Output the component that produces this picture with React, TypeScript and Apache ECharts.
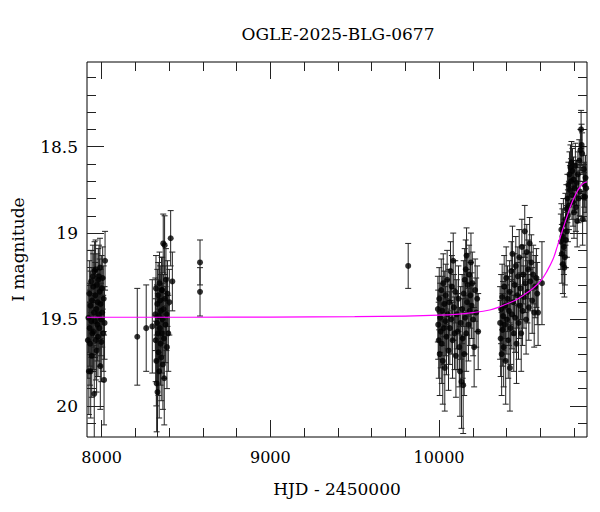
import React, { useEffect, useRef } from "react";
import * as echarts from "echarts";

const titleText = "OGLE-2025-BLG-0677";
const xName = "HJD - 2450000";
const yName = "I magnitude";

const X_MIN = 7913;
const X_MAX = 10877;
const Y_MIN = 18.01;
const Y_MAX = 20.18;

const xMajorTicks = [8000, 9000, 10000];
const xMinorTicks = [8000, 8200, 8400, 8600, 8800, 9000, 9200, 9400, 9600, 9800, 10000, 10200, 10400, 10600, 10800];
const yMajorTicks = [18.5, 19, 19.5, 20];
const yMinorTicks = [18.1, 18.2, 18.3, 18.4, 18.5, 18.6, 18.7, 18.8, 18.9, 19.0, 19.1, 19.2, 19.3, 19.4, 19.5, 19.6, 19.7, 19.8, 19.9, 20.0, 20.1];

// [HJD-2450000, I mag, error]
const season2018 = [
  [7918, 19.62, 0.22], [7921, 19.49, 0.20], [7924, 19.80, 0.25], [7927, 19.35, 0.19],
  [7929, 19.55, 0.22], [7931, 19.64, 0.24], [7933, 19.42, 0.20], [7935, 19.80, 0.27],
  [7937, 19.28, 0.18], [7939, 19.51, 0.21], [7941, 19.71, 0.24], [7943, 19.39, 0.19],
  [7945, 19.58, 0.22], [7948, 19.25, 0.18], [7950, 19.31, 0.19], [7952, 19.57, 0.22],
  [7954, 19.46, 0.20], [7956, 19.93, 0.28], [7958, 19.22, 0.17], [7960, 19.51, 0.21],
  [7962, 19.36, 0.19], [7964, 19.21, 0.17], [7966, 19.62, 0.23], [7968, 19.44, 0.20],
  [7970, 19.68, 0.24], [7972, 19.30, 0.18], [7974, 19.53, 0.21], [7976, 19.40, 0.19],
  [7978, 19.60, 0.23], [7980, 19.27, 0.18], [7982, 19.47, 0.20], [7984, 19.25, 0.18],
  [7986, 19.55, 0.22], [7988, 19.34, 0.19], [7990, 19.20, 0.17], [7992, 19.77, 0.25],
  [7994, 19.41, 0.20], [7996, 19.50, 0.21], [7998, 19.63, 0.23], [8000, 19.32, 0.19],
  [8003, 19.46, 0.20], [8006, 19.26, 0.18], [8009, 19.58, 0.22], [8012, 19.38, 0.19],
  [8014, 19.85, 0.26], [8017, 19.52, 0.21], [8020, 19.16, 0.17],
];

const season2019 = [
  [8211, 19.60, 0.28], [8264, 19.55, 0.25], [8300, 19.54, 0.27],
  [8318, 19.47, 0.21], [8320, 19.62, 0.24], [8322, 19.32, 0.19], [8324, 19.74, 0.26],
  [8326, 19.87, 0.28], [8328, 19.52, 0.22], [8330, 19.41, 0.20], [8331, 19.92, 0.29],
  [8333, 19.58, 0.23], [8335, 19.36, 0.19], [8337, 19.69, 0.25], [8339, 19.48, 0.21],
  [8341, 19.80, 0.27], [8343, 19.29, 0.18], [8345, 19.55, 0.22], [8347, 19.39, 0.20],
  [8349, 19.64, 0.24], [8351, 19.45, 0.21], [8353, 19.72, 0.25], [8355, 19.33, 0.19],
  [8357, 19.58, 0.23], [8359, 19.33, 0.19], [8361, 19.50, 0.21], [8363, 19.76, 0.26],
  [8365, 19.06, 0.17], [8367, 19.44, 0.20], [8369, 19.61, 0.23], [8371, 19.84, 0.27],
  [8373, 19.07, 0.17], [8375, 19.38, 0.19], [8378, 19.53, 0.22], [8381, 19.27, 0.18],
  [8384, 19.47, 0.21], [8387, 19.66, 0.24], [8390, 19.35, 0.19], [8395, 19.58, 0.22],
  [8401, 19.40, 0.19], [8409, 19.03, 0.16], [8419, 19.28, 0.17],
];

const season2019b = [
  [8583, 19.17, 0.13], [8583, 19.34, 0.14],
];

const season2022 = [
  [9817, 19.19, 0.13],
];

const season2023 = [
  [9993, 19.44, 0.19], [9995, 19.53, 0.20], [9998, 19.62, 0.22], [10001, 19.38, 0.18],
  [10004, 19.70, 0.24], [10007, 19.49, 0.20], [10010, 19.57, 0.21], [10013, 19.33, 0.18],
  [10016, 19.64, 0.23], [10019, 19.45, 0.20], [10022, 19.74, 0.25], [10025, 19.29, 0.17],
  [10028, 19.55, 0.21], [10031, 19.41, 0.19], [10034, 19.78, 0.25], [10037, 19.51, 0.20],
  [10040, 19.36, 0.18], [10044, 19.60, 0.22], [10048, 19.27, 0.17], [10052, 19.47, 0.20],
  [10056, 19.68, 0.23], [10060, 19.40, 0.19], [10064, 19.55, 0.21], [10068, 19.22, 0.17],
  [10072, 19.50, 0.20], [10076, 19.31, 0.18], [10080, 19.62, 0.22], [10084, 19.16, 0.16],
  [10088, 19.43, 0.19], [10092, 19.58, 0.21], [10096, 19.34, 0.18], [10100, 19.71, 0.24],
  [10105, 19.47, 0.20], [10110, 19.57, 0.22], [10115, 19.38, 0.19], [10120, 19.66, 0.23],
  [10124, 19.80, 0.26], [10128, 19.52, 0.21], [10133, 19.86, 0.27], [10137, 19.44, 0.20],
  [10140, 19.61, 0.23], [10143, 19.88, 0.28], [10146, 19.35, 0.19], [10149, 19.70, 0.24],
  [10152, 19.27, 0.18], [10155, 19.49, 0.21], [10158, 19.21, 0.17], [10161, 19.58, 0.22],
  [10163, 19.13, 0.16], [10166, 19.40, 0.19], [10170, 19.30, 0.18], [10174, 19.53, 0.21],
  [10178, 19.24, 0.17], [10182, 19.45, 0.20], [10186, 19.36, 0.19], [10189, 19.17, 0.17],
  [10193, 19.42, 0.19], [10197, 19.29, 0.18], [10202, 19.50, 0.21], [10208, 19.66, 0.23],
  [10214, 19.33, 0.18], [10220, 19.46, 0.20], [10226, 19.38, 0.19], [10232, 19.57, 0.22],
];

const season2024 = [
  [10362, 19.52, 0.21], [10365, 19.61, 0.22], [10368, 19.44, 0.20], [10371, 19.70, 0.24],
  [10374, 19.37, 0.19], [10377, 19.56, 0.21], [10380, 19.48, 0.20], [10383, 19.66, 0.23],
  [10386, 19.31, 0.18], [10389, 19.53, 0.21], [10392, 19.42, 0.19], [10395, 19.74, 0.25],
  [10398, 19.26, 0.18], [10402, 19.50, 0.20], [10406, 19.38, 0.19], [10410, 19.62, 0.22],
  [10414, 19.45, 0.20], [10418, 19.34, 0.18], [10420, 19.78, 0.25], [10424, 19.55, 0.21],
  [10428, 19.22, 0.17], [10432, 19.47, 0.20], [10435, 19.12, 0.16], [10439, 19.40, 0.19],
  [10443, 19.58, 0.22], [10447, 19.30, 0.18], [10451, 19.49, 0.20], [10455, 19.19, 0.17],
  [10459, 19.64, 0.23], [10463, 19.36, 0.19], [10467, 19.25, 0.17], [10471, 19.52, 0.21],
  [10475, 19.14, 0.16], [10479, 19.42, 0.19], [10483, 19.32, 0.18], [10487, 19.58, 0.22],
  [10491, 19.08, 0.16], [10495, 19.45, 0.20], [10499, 19.24, 0.17], [10503, 19.37, 0.18],
  [10508, 18.99, 0.15], [10512, 19.29, 0.17], [10516, 19.50, 0.20], [10520, 19.11, 0.16],
  [10524, 19.34, 0.18], [10528, 19.21, 0.17], [10532, 19.43, 0.19], [10537, 19.06, 0.15],
  [10541, 19.28, 0.17], [10547, 19.17, 0.16], [10552, 19.39, 0.19], [10558, 19.24, 0.17],
  [10564, 19.46, 0.20], [10570, 19.31, 0.18], [10577, 19.26, 0.17], [10582, 19.35, 0.18],
  [10587, 19.46, 0.19], [10610, 19.29, 0.24],
];

const season2025 = [
  [10722, 19.05, 0.16], [10725, 18.98, 0.15], [10728, 19.12, 0.17], [10731, 19.02, 0.16],
  [10734, 19.18, 0.17], [10737, 18.95, 0.15], [10740, 19.08, 0.16], [10743, 19.20, 0.17],
  [10746, 19.14, 0.16], [10749, 18.92, 0.15], [10752, 19.04, 0.16], [10755, 18.86, 0.14],
  [10758, 18.99, 0.15], [10761, 18.80, 0.14], [10764, 18.90, 0.15], [10767, 18.72, 0.13],
  [10770, 18.84, 0.14], [10773, 18.66, 0.13], [10776, 18.75, 0.14], [10779, 18.62, 0.13],
  [10782, 18.70, 0.13], [10785, 18.59, 0.12], [10788, 18.78, 0.14], [10791, 18.64, 0.13],
  [10794, 18.82, 0.14], [10797, 18.69, 0.13], [10800, 18.88, 0.15], [10804, 18.74, 0.14],
  [10808, 18.61, 0.13], [10811, 18.85, 0.14], [10815, 18.71, 0.13], [10819, 18.93, 0.15],
  [10823, 18.66, 0.13], [10827, 18.80, 0.14], [10831, 18.58, 0.12], [10835, 18.76, 0.14],
  [10838, 18.52, 0.12], [10842, 18.40, 0.11], [10845, 18.49, 0.12], [10848, 18.54, 0.12],
  [10851, 18.92, 0.15], [10855, 18.79, 0.14], [10858, 18.63, 0.13], [10861, 18.72, 0.13],
  [10865, 18.79, 0.14], [10868, 18.68, 0.13], [10872, 18.74, 0.14],
];

const modelHjd = [7913, 8500, 9000, 9500, 9800, 10000, 10100, 10200, 10300, 10350, 10400, 10450, 10500, 10550, 10600, 10640, 10676, 10700, 10731, 10760, 10785, 10810, 10834, 10855, 10877];
const modelMag = [19.487, 19.487, 19.486, 19.484, 19.48, 19.475, 19.47, 19.46, 19.445, 19.43, 19.41, 19.39, 19.36, 19.325, 19.28, 19.22, 19.15, 19.08, 18.985, 18.9, 18.83, 18.775, 18.735, 18.712, 18.703];

const FONT = "DejaVu Serif";

export default function App() {
  const ref = useRef<HTMLDivElement>(null);

  useEffect(() => {
    if (!ref.current) return;
    const chart = echarts.init(ref.current, undefined, { renderer: "svg" });
    const allPoints = [
      ...season2018, ...season2019, ...season2019b, ...season2022,
      ...season2023, ...season2024, ...season2025,
    ];
    const modelData = modelHjd.map((x, i) => [x, modelMag[i]]);

    const xBase = {
      type: "value",
      min: X_MIN,
      max: X_MAX,
      gridIndex: 0,
      splitLine: { show: false },
      axisLine: { show: false, onZero: false },
    };
    const yBase = {
      type: "value",
      min: Y_MIN,
      max: Y_MAX,
      inverse: true,
      gridIndex: 0,
      splitLine: { show: false },
      axisLine: { show: false, onZero: false },
    };
    const tickStyle = { color: "#222", width: 1 };

    chart.setOption({
      animation: false,
      backgroundColor: "#fff",
      grid: {
        left: 87, right: 13, top: 62, bottom: 75,
        show: true, borderColor: "#000", borderWidth: 1, backgroundColor: "#fff",
      },
      graphic: [
        {
          type: "text", x: 338, y: 34,
          style: {
            text: titleText, font: `17px "${FONT}"`, fill: "#000",
            align: "center", verticalAlign: "middle",
          },
        },
      ],
      xAxis: [
        {
          ...xBase, position: "bottom",
          name: xName, nameLocation: "middle", nameGap: 43,
          nameTextStyle: { fontFamily: FONT, fontSize: 17, color: "#000" },
          axisTick: { show: true, inside: true, length: 17, customValues: xMajorTicks, lineStyle: tickStyle },
          axisLabel: {
            show: true, customValues: xMajorTicks, margin: 12,
            fontFamily: FONT, fontSize: 16, color: "#000",
            formatter: (v: number) => String(v),
          },
        },
        {
          ...xBase, position: "bottom",
          axisTick: { show: true, inside: true, length: 9, customValues: xMinorTicks, lineStyle: tickStyle },
          axisLabel: { show: false },
        },
        {
          ...xBase, position: "top",
          axisTick: { show: true, inside: true, length: 17, customValues: xMajorTicks, lineStyle: tickStyle },
          axisLabel: { show: false },
        },
        {
          ...xBase, position: "top",
          axisTick: { show: true, inside: true, length: 9, customValues: xMinorTicks, lineStyle: tickStyle },
          axisLabel: { show: false },
        },
      ],
      yAxis: [
        {
          ...yBase, position: "left",
          name: yName, nameLocation: "middle", nameGap: 61, nameRotate: 90,
          nameTextStyle: { fontFamily: FONT, fontSize: 17, color: "#000" },
          axisTick: { show: true, inside: true, length: 17, customValues: yMajorTicks, lineStyle: tickStyle },
          axisLabel: {
            show: true, customValues: yMajorTicks, margin: 9,
            fontFamily: FONT, fontSize: 17, color: "#000",
            formatter: (v: number) => String(v),
          },
        },
        {
          ...yBase, position: "left",
          axisTick: { show: true, inside: true, length: 9, customValues: yMinorTicks, lineStyle: tickStyle },
          axisLabel: { show: false },
        },
        {
          ...yBase, position: "right",
          axisTick: { show: true, inside: true, length: 17, customValues: yMajorTicks, lineStyle: tickStyle },
          axisLabel: { show: false },
        },
        {
          ...yBase, position: "right",
          axisTick: { show: true, inside: true, length: 9, customValues: yMinorTicks, lineStyle: tickStyle },
          axisLabel: { show: false },
        },
      ],
      series: [
        {
          type: "custom",
          xAxisIndex: 0,
          yAxisIndex: 0,
          clip: true,
          z: 2,
          encode: { x: 0, y: 1 },
          data: allPoints,
          renderItem: (params: any, api: any) => {
            const x = api.value(0);
            const y = api.value(1);
            const e = api.value(2);
            const top = api.coord([x, y - e]);
            const bot = api.coord([x, y + e]);
            const cap = 3;
            const style = { stroke: "#222", lineWidth: 1 };
            return {
              type: "group",
              children: [
                { type: "line", shape: { x1: top[0], y1: top[1], x2: bot[0], y2: bot[1] }, style },
                { type: "line", shape: { x1: top[0] - cap, y1: top[1], x2: top[0] + cap, y2: top[1] }, style },
                { type: "line", shape: { x1: bot[0] - cap, y1: bot[1], x2: bot[0] + cap, y2: bot[1] }, style },
              ],
            };
          },
        },
        {
          type: "scatter",
          xAxisIndex: 0,
          yAxisIndex: 0,
          z: 3,
          symbol: "circle",
          symbolSize: 6,
          itemStyle: { color: "#000" },
          data: allPoints.map((p) => [p[0], p[1]]),
        },
        {
          type: "line",
          xAxisIndex: 0,
          yAxisIndex: 0,
          z: 4,
          showSymbol: false,
          symbol: "none",
          smooth: 0.4,
          lineStyle: { color: "#ff00ff", width: 1.2 },
          data: modelData,
        },
      ],
    });
    return () => chart.dispose();
  }, []);

  return (
    <div
      ref={ref}
      style={{ position: "absolute", left: 0, top: 0, width: 600, height: 512 }}
    />
  );
}
